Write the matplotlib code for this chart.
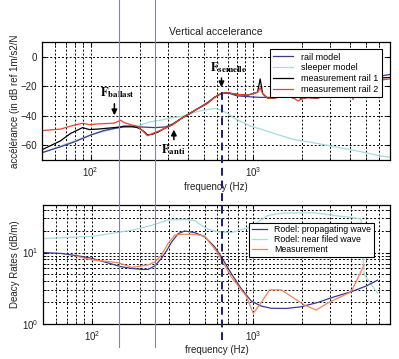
import numpy as np
import matplotlib
matplotlib.use('Agg')
import matplotlib.pyplot as plt
import matplotlib.transforms as mtransforms
from matplotlib.lines import Line2D

plt.rcParams['font.family'] = ['Liberation Sans', 'DejaVu Sans']

# --- top panel: vertical accelerance (dB) ---
freq_rail = [50, 65, 80, 100, 120, 140, 160, 200, 250, 290, 320, 360, 414, 460, 525, 580, 635,
             700, 800, 930, 1100, 1300, 1500, 1800, 2270, 3000, 4000, 5500, 7000]
rail_model = [-65, -61, -57.5, -53, -50, -48.5, -47.5, -47.5, -48, -47.5, -45.5, -42, -38, -35, -31,
              -27.5, -25, -24.4, -26.5, -27, -27.5, -27.5, -27.5, -25.5, -22.7, -20, -17, -14, -12]

freq_sleeper = [50, 100, 150, 194, 234, 270, 312, 360, 414, 480, 577, 635, 700, 765, 870, 970,
                1120, 1400, 1790, 2300, 2890, 3600, 4500, 6000, 7000]
sleeper_model = [-65, -53, -48, -47, -44, -43, -41.5, -40.5, -38.5, -36.5, -35, -36, -38.5, -41.5,
                 -44.5, -47, -49, -52.5, -56, -58, -60, -62, -64, -67, -68]

freq_meas = [50, 57, 65, 75, 89, 98, 110, 139, 153, 160, 177, 194, 203, 215, 224, 240, 260, 280,
             320, 360, 414, 460, 525, 580, 635, 700, 800, 930, 1000, 1070, 1110, 1150, 1230, 1350,
             1500, 1640, 1790, 1900, 2000, 2170, 2500, 2700, 2890, 2950, 3100, 3300, 3600, 4000,
             4150, 4250, 5000, 7000]
meas_rail1 = [-63, -60, -57, -52, -48, -49.3, -49, -48, -47.5, -47, -47, -48, -49, -51, -53, -52.5,
              -51, -49, -46, -42, -38, -35, -31.5, -27.5, -25, -24.4, -25.5, -26, -25, -24, -15,
              -25, -28, -28, -27, -26.7, -28, -27, -28.5, -27.6, -28, -27, -25, -22, -19, -18, -17,
              -16, -16, -16, -15, -14]
meas_rail2 = [-50, -49.5, -49, -47, -45, -46, -45.5, -45, -43, -44.5, -46, -47, -49, -51.5, -53.5,
              -52, -50.5, -49, -46, -42, -38, -35, -31.5, -27.5, -25, -24.4, -25.5, -26, -25, -24,
              -21, -25, -28, -28, -27, -26.7, -28, -30, -28.5, -27.6, -28, -24, -27, -27, -21, -24,
              -18, -20, -29, -21, -17, -15]

# --- bottom panel: decay rates (dB/m) ---
freq_prop = [50, 65, 87, 100, 125, 153, 177, 203, 223, 246, 270, 290, 312, 343, 376, 435, 500,
             577, 635, 730, 840, 970, 1120, 1290, 1600, 1970, 2500, 3170, 4040, 5000, 5880]
rodel_prop = [10, 9.7, 8.8, 8.3, 7.2, 6.3, 6.0, 5.8, 5.8, 6.5, 8.3, 10.5, 14, 18.4, 20, 19, 16.6,
              12, 8.7, 5.1, 3.15, 2.1, 1.78, 1.66, 1.65, 1.74, 2.0, 2.4, 2.83, 3.4, 4.1]

freq_near = [50, 100, 153, 177, 234, 270, 297, 376, 435, 477, 530, 605, 730, 850, 970, 1230, 1500,
             2000, 2400, 3170, 4000, 4640, 4850, 5100, 5880]
rodel_near = [15.7, 16.8, 19.5, 20.5, 24, 26.5, 28.5, 29, 28, 24, 21, 19.5, 19, 21, 23, 33, 35.5,
              36, 36, 33, 31, 29.5, 5, 4.2, 2.7]

freq_dr = [80, 100, 125, 146, 177, 223, 246, 270, 297, 326, 360, 435, 500, 605, 730, 840, 900,
           1000, 1120, 1260, 1490, 2070, 2450, 2870, 4040, 4850]
decay_meas = [8.9, 7.9, 7.5, 7.2, 6.2, 6.7, 7.4, 9.2, 13.4, 17.5, 18, 18, 17, 9.7, 4.6, 3.0, 2.5,
              1.41, 2.0, 3.0, 3.0, 1.84, 1.57, 1.95, 2.83, 6.7]

f_ballast, f_anti, f_semelle = 140, 326, 641
f_marks = [150, 250]

navy = '#3b3b8f'
cyan = '#a6dcdc'
red = '#e8452c'
orange = '#f0855a'
txt = '#222222'

fig = plt.figure(figsize=(3.99, 3.59), dpi=100)
ax1 = fig.add_axes([0.105, 0.554, 0.872, 0.329])
ax2 = fig.add_axes([0.108, 0.0975, 0.869, 0.331])

ax1.plot(freq_sleeper, sleeper_model, color=cyan, lw=0.9, label='sleeper model')
ax1.plot(freq_rail, rail_model, color=navy, lw=0.9, label='rail model')
ax1.plot(freq_meas, meas_rail1, color='k', lw=0.9, label='measurement rail 1')
ax1.plot(freq_meas, meas_rail2, color=red, lw=0.9, label='measurement rail 2')
ax1.set_xscale('log')
ax1.set_xlim(50, 7000)
ax1.set_ylim(-70, 10)
ax1.set_yticks([0, -20, -40, -60])
ax1.set_title('Vertical accelerance', fontsize=7.5, color=txt, pad=5)
ax1.set_xlabel('frequency (Hz)', fontsize=7, color=txt, labelpad=2)
ax1.set_ylabel('accélérance (in dB ref 1m/s2/N', fontsize=7, color=txt, labelpad=0)
h, l = ax1.get_legend_handles_labels()
order = [1, 0, 2, 3]
leg1 = ax1.legend([h[i] for i in order], [l[i] for i in order], loc='upper right',
                  bbox_to_anchor=(0.99, 0.975), fontsize=6.5, fancybox=False, framealpha=1,
                  edgecolor='k', handlelength=2.2, borderpad=0.35, labelspacing=0.2,
                  handletextpad=0.9)
leg1.get_frame().set_linewidth(0.8)

ax2.plot(freq_near, rodel_near, color=cyan, lw=0.9, label='Rodel: near filed wave')
ax2.plot(freq_prop, rodel_prop, color=navy, lw=0.9, label='Rodel: propagating wave')
ax2.plot(freq_dr, decay_meas, color=orange, lw=0.9, label='Measurement')
ax2.set_xscale('log')
ax2.set_yscale('log')
ax2.set_xlim(50, 7000)
ax2.set_ylim(1, 46)
ax2.set_xlabel('frequency (Hz)', fontsize=7, color=txt, labelpad=2)
ax2.set_ylabel('Deacy Rates (dB/m)', fontsize=7, color=txt, labelpad=1)
h, l = ax2.get_legend_handles_labels()
order = [1, 0, 2]
leg2 = ax2.legend([h[i] for i in order], [l[i] for i in order], loc='upper right',
                  bbox_to_anchor=(0.967, 0.89), fontsize=6.3, fancybox=False, framealpha=1,
                  edgecolor='k', handlelength=1.8, borderpad=0.3, labelspacing=0.12,
                  handletextpad=0.8)
leg2.get_frame().set_linewidth(0.8)

for ax in (ax1, ax2):
    ax.grid(True, which='major', ls=(0, (2, 2)), color='k', lw=0.7)
    ax.grid(True, which='minor', axis='x', ls=(0, (2, 2)), color='k', lw=0.7)
    ax.tick_params(which='both', direction='in', top=True, right=True, labelsize=7,
                   labelcolor=txt, length=3)
    ax.tick_params(which='minor', length=2)
    for s in ax.spines.values():
        s.set_linewidth(0.9)
ax2.grid(True, which='minor', axis='y', ls=(0, (2, 2)), color='k', lw=0.7)

# annotations
ax1.annotate('', xy=(f_ballast, -41.5), xytext=(f_ballast, -30),
             arrowprops=dict(arrowstyle='-|>', color='k', lw=1.1, mutation_scale=8))
ax1.text(f_ballast * 1.05, -24.5, r'$\mathbf{F}_{\mathbf{ballast}}$', fontsize=9,
         math_fontfamily='stix', ha='center', va='center')
ax1.annotate('', xy=(f_anti, -47.5), xytext=(f_anti, -58),
             arrowprops=dict(arrowstyle='-|>', color='k', lw=1.1, mutation_scale=8))
ax1.text(f_anti * 0.99, -63, r'$\mathbf{F}_{\mathbf{anti}}$', fontsize=9,
         math_fontfamily='stix', ha='center', va='center')
ax1.annotate('', xy=(f_semelle, -22.5), xytext=(f_semelle, -12.5),
             arrowprops=dict(arrowstyle='-|>', color='k', lw=1.1, mutation_scale=8))
ax1.text(f_semelle * 1.1, -7, r'$\mathbf{F}_{\mathbf{semelle}}$', fontsize=9,
         math_fontfamily='stix', ha='center', va='center')

# figure-level marker lines
blend = mtransforms.blended_transform_factory(ax1.transData, fig.transFigure)
for f in f_marks:
    fig.add_artist(Line2D([f, f], [0.033, 1.0], transform=blend, color='#7c7ce6', lw=0.8))
fig.add_artist(Line2D([f_semelle, f_semelle], [0.053, 0.755], transform=blend, color='#1c1c6a',
                      lw=1.4, ls=(0, (4, 2.5))))

fig.savefig('out.png', dpi=100)
